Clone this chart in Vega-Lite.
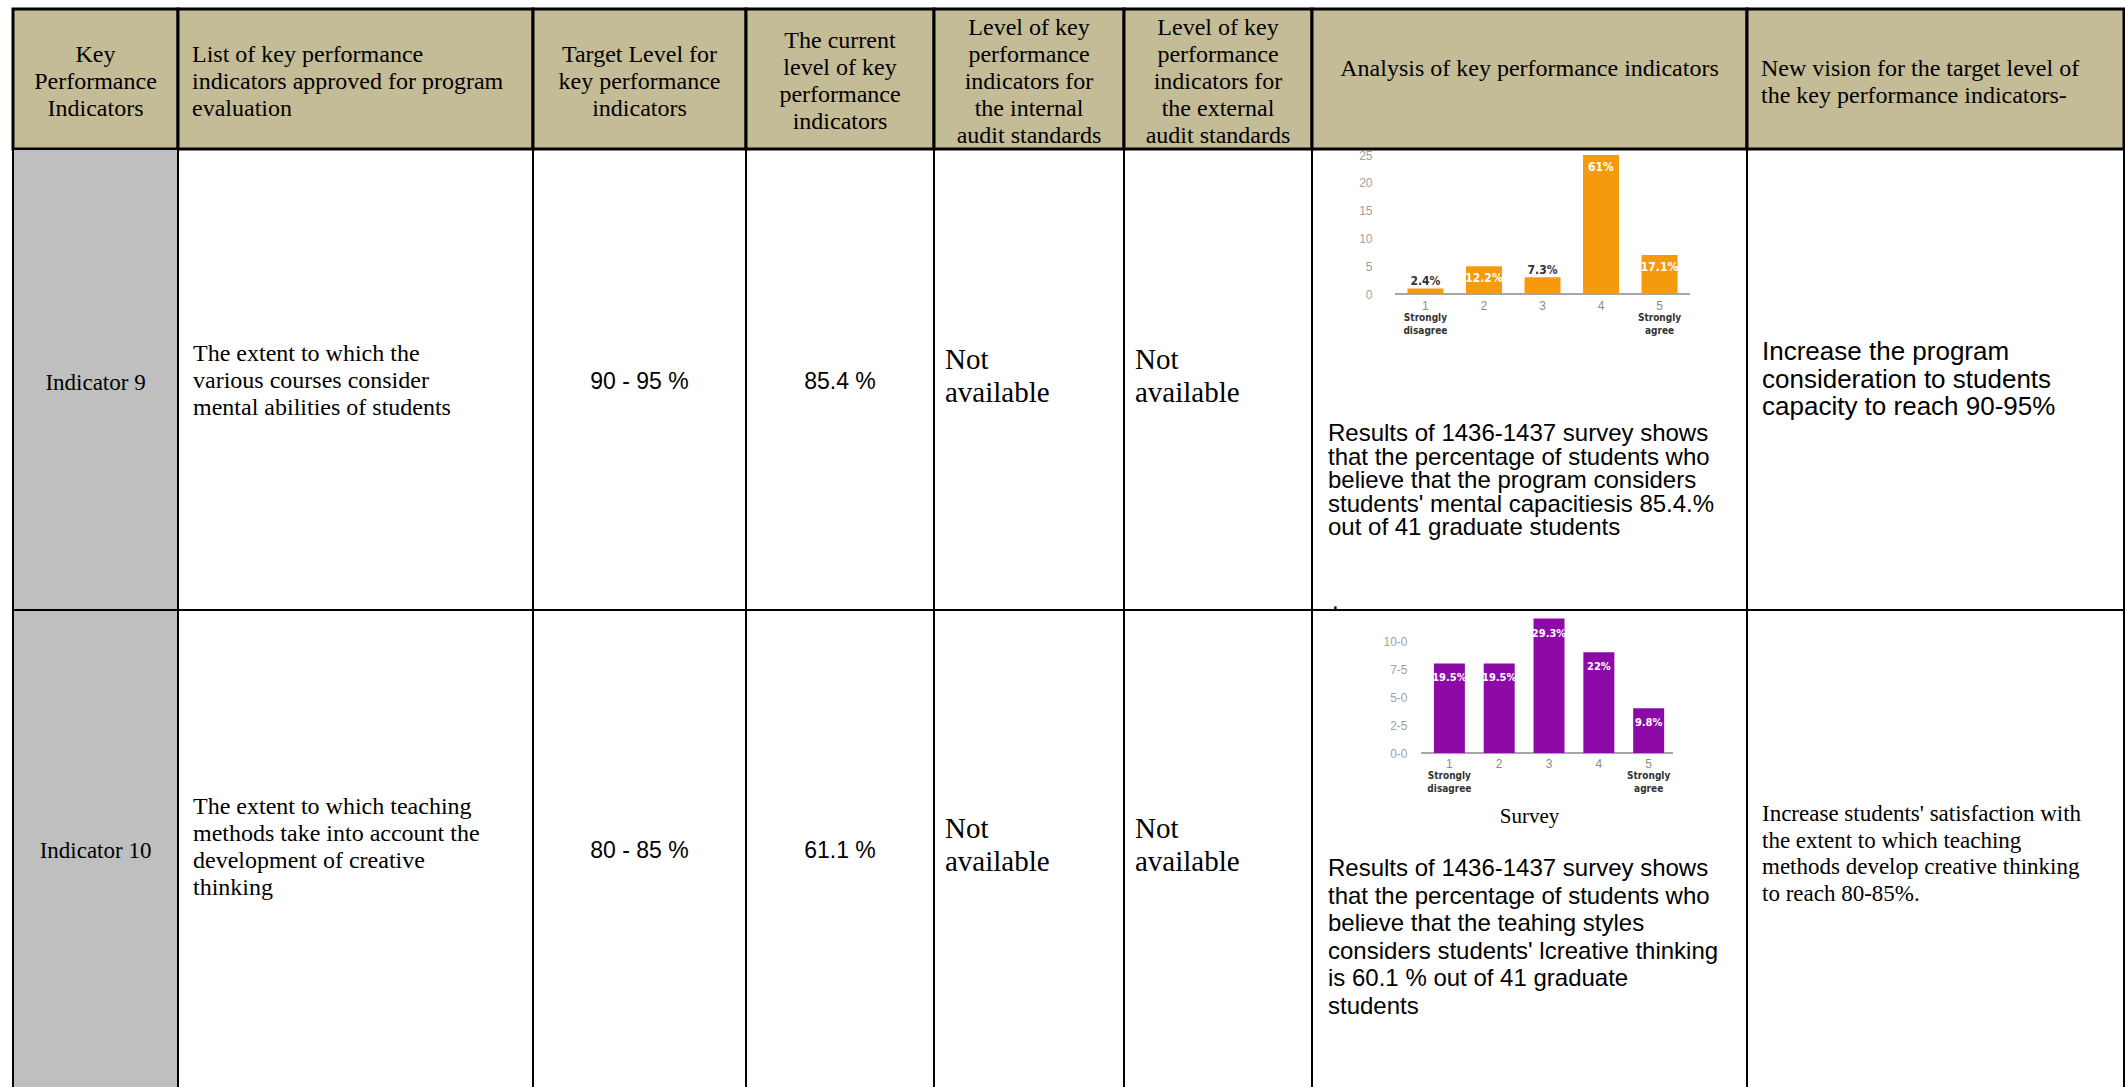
{
  "$schema": "https://vega.github.io/schema/vega-lite/v6.json",
  "description": "Key performance indicators table with two survey bar charts",
  "padding": {"left": 11, "top": 7, "right": 0, "bottom": 0},
  "columns": 8,
  "spacing": 0,
  "bounds": "flush",
  "concat": [
    {
      "width": 165, "height": 140,
      "view": {"fill": "#c4bc96", "stroke": "#000000", "strokeWidth": 3},
      "data": {"values": [{"label": ["Key", "Performance", "Indicators"]}]},
      "mark": {"type": "text", "dy": -24},
      "encoding": {"text": {"field": "label"}}
    },
    {
      "width": 355, "height": 140,
      "view": {"fill": "#c4bc96", "stroke": "#000000", "strokeWidth": 3},
      "data": {"values": [{"label": ["List of key performance", "indicators approved for program", "evaluation"]}]},
      "mark": {"type": "text", "align": "left", "dx": -163.5, "dy": -24},
      "encoding": {"text": {"field": "label"}}
    },
    {
      "width": 213, "height": 140,
      "view": {"fill": "#c4bc96", "stroke": "#000000", "strokeWidth": 3},
      "data": {"values": [{"label": ["Target Level for", "key performance", "indicators"]}]},
      "mark": {"type": "text", "dy": -24},
      "encoding": {"text": {"field": "label"}}
    },
    {
      "width": 188, "height": 140,
      "view": {"fill": "#c4bc96", "stroke": "#000000", "strokeWidth": 3},
      "data": {"values": [{"label": ["The current", "level of key", "performance", "indicators"]}]},
      "mark": {"type": "text", "dy": -38},
      "encoding": {"text": {"field": "label"}}
    },
    {
      "width": 190, "height": 140,
      "view": {"fill": "#c4bc96", "stroke": "#000000", "strokeWidth": 3},
      "data": {"values": [{"label": ["Level of key", "performance", "indicators for", "the internal", "audit standards"]}]},
      "mark": {"type": "text", "dy": -51},
      "encoding": {"text": {"field": "label"}}
    },
    {
      "width": 188, "height": 140,
      "view": {"fill": "#c4bc96", "stroke": "#000000", "strokeWidth": 3},
      "data": {"values": [{"label": ["Level of key", "performance", "indicators for", "the external", "audit standards"]}]},
      "mark": {"type": "text", "dy": -51},
      "encoding": {"text": {"field": "label"}}
    },
    {
      "width": 435, "height": 140,
      "view": {"fill": "#c4bc96", "stroke": "#000000", "strokeWidth": 3},
      "data": {"values": [{"label": ["Analysis of key performance indicators"]}]},
      "mark": {"type": "text", "dy": -10},
      "encoding": {"text": {"field": "label"}}
    },
    {
      "width": 377, "height": 140,
      "view": {"fill": "#c4bc96", "stroke": "#000000", "strokeWidth": 3},
      "data": {"values": [{"label": ["New vision for the target level of", "the key performance indicators-"]}]},
      "mark": {"type": "text", "align": "left", "dx": -174.5, "dy": -10},
      "encoding": {"text": {"field": "label"}}
    },
    {
      "width": 165, "height": 461,
      "view": {"fill": "#bfbfbf", "stroke": "#000000", "strokeWidth": 2},
      "data": {"values": [{"label": ["Indicator 9"]}]},
      "mark": {"type": "text", "fontSize": 23, "dy": 3},
      "encoding": {"text": {"field": "label"}}
    },
    {
      "width": 355, "height": 461,
      "view": {"stroke": "#000000", "strokeWidth": 2},
      "data": {"values": [{"label": ["The extent to which the", "various courses consider", "mental abilities of students"]}]},
      "mark": {"type": "text", "align": "left", "dx": -162.5, "dy": -26},
      "encoding": {"text": {"field": "label"}}
    },
    {
      "width": 213, "height": 461,
      "view": {"stroke": "#000000", "strokeWidth": 2},
      "data": {"values": [{"label": ["90 - 95 %"]}]},
      "mark": {"type": "text", "font": "Liberation Sans", "fontSize": 23, "dy": 2},
      "encoding": {"text": {"field": "label"}}
    },
    {
      "width": 188, "height": 461,
      "view": {"stroke": "#000000", "strokeWidth": 2},
      "data": {"values": [{"label": ["85.4 %"]}]},
      "mark": {"type": "text", "font": "Liberation Sans", "fontSize": 23, "dy": 2},
      "encoding": {"text": {"field": "label"}}
    },
    {
      "width": 190, "height": 461,
      "view": {"stroke": "#000000", "strokeWidth": 2},
      "data": {"values": [{"label": ["Not", "available"]}]},
      "mark": {"type": "text", "fontSize": 29, "lineHeight": 33, "align": "left", "dx": -84, "dy": -20},
      "encoding": {"text": {"field": "label"}}
    },
    {
      "width": 188, "height": 461,
      "view": {"stroke": "#000000", "strokeWidth": 2},
      "data": {"values": [{"label": ["Not", "available"]}]},
      "mark": {"type": "text", "fontSize": 29, "lineHeight": 33, "align": "left", "dx": -83, "dy": -20},
      "encoding": {"text": {"field": "label"}}
    },
    {
      "width": 435, "height": 461,
      "view": {"stroke": "#000000", "strokeWidth": 2},
      "layer": [
        {
          "data": {"values": [
            {"score": 1, "students": 1, "share": "2.4%", "anchor": ["Strongly", "disagree"]},
            {"score": 2, "students": 5, "share": "12.2%"},
            {"score": 3, "students": 3, "share": "7.3%"},
            {"score": 4, "students": 25, "share": "61%"},
            {"score": 5, "students": 7, "share": "17.1%", "anchor": ["Strongly", "agree"]}
          ]},
          "encoding": {
            "x": {"field": "score", "type": "quantitative", "axis": null, "scale": {"domain": [-0.853, 6.409], "nice": false, "zero": false}},
            "y": {
              "field": "students", "type": "quantitative",
              "scale": {"domain": [-56.83, 26.08], "nice": false},
              "axis": {"title": null, "values": [0, 5, 10, 15, 20, 25], "domain": false, "ticks": false, "grid": false, "labelOverlap": false, "offset": -60, "labelPadding": 0, "labelColor": "#a0a0a0", "labelFont": "Liberation Sans", "labelFontSize": 12}
            }
          },
          "layer": [
            {"mark": {"type": "rule", "color": "#a6a6a6", "strokeWidth": 1.5}, "encoding": {"x": {"datum": 0.48}, "x2": {"datum": 5.52}, "y": {"datum": 0}}},
            {"mark": {"type": "bar", "orient": "vertical", "size": 36, "color": "#f59a0c"}},
            {
              "transform": [{"filter": "datum.students > 3"}],
              "mark": {"type": "text", "baseline": "top", "dy": 7, "color": "white", "font": "DejaVu Sans Condensed, Liberation Sans, sans-serif", "fontWeight": "bold", "fontSize": 12, "lineHeight": 13},
              "encoding": {"text": {"field": "share"}}
            },
            {
              "transform": [{"filter": "datum.students <= 3"}],
              "mark": {"type": "text", "baseline": "bottom", "dy": 0, "color": "#333333", "font": "DejaVu Sans Condensed, Liberation Sans, sans-serif", "fontWeight": "bold", "fontSize": 12, "lineHeight": 13},
              "encoding": {"text": {"field": "share"}}
            },
            {
              "mark": {"type": "text", "baseline": "top", "dy": 7, "color": "#8c8c8c", "font": "Liberation Sans", "fontSize": 12, "lineHeight": 13},
              "encoding": {"y": {"datum": 0}, "text": {"field": "score"}}
            },
            {
              "transform": [{"filter": "isValid(datum.anchor)"}],
              "mark": {"type": "text", "baseline": "top", "dy": 19, "color": "#333333", "font": "DejaVu Sans Condensed, Liberation Sans, sans-serif", "fontWeight": "bold", "fontSize": 10, "lineHeight": 13},
              "encoding": {"y": {"datum": 0}, "text": {"field": "anchor"}}
            }
          ]
        },
        {
          "data": {"values": [
            {"label": ["Results of 1436-1437 survey   shows", "that the percentage of students who", "believe that the program   considers", "students' mental capacitiesis 85.4.%", "out of 41 graduate   students"], "part": "body"},
            {"label": ["."], "part": "dot"}
          ]},
          "layer": [
            {
              "transform": [{"filter": "datum.part == 'body'"}],
              "mark": {"type": "text", "font": "Liberation Sans", "fontSize": 24, "lineHeight": 23.5, "align": "left", "dx": -201.5, "dy": 54.5},
              "encoding": {"text": {"field": "label"}}
            },
            {
              "transform": [{"filter": "datum.part == 'dot'"}],
              "mark": {"type": "text", "font": "Liberation Sans", "fontSize": 24, "align": "left", "dx": -197.5, "dy": 222},
              "encoding": {"text": {"field": "label"}}
            }
          ]
        }
      ]
    },
    {
      "width": 377, "height": 461,
      "view": {"stroke": "#000000", "strokeWidth": 2},
      "data": {"values": [{"label": ["Increase        the        program", "consideration   to   students", "capacity to reach 90-95%"]}]},
      "mark": {"type": "text", "font": "Liberation Sans", "fontSize": 26, "lineHeight": 27.5, "align": "left", "dx": -173.5, "dy": -27.5},
      "encoding": {"text": {"field": "label"}}
    },
    {
      "width": 165, "height": 478,
      "view": {"fill": "#bfbfbf", "stroke": "#000000", "strokeWidth": 2, "strokeDash": [643, 165, 600, 0]},
      "data": {"values": [{"label": ["Indicator 10"]}]},
      "mark": {"type": "text", "fontSize": 23, "dy": 2},
      "encoding": {"text": {"field": "label"}}
    },
    {
      "width": 355, "height": 478,
      "view": {"stroke": "#000000", "strokeWidth": 2, "strokeDash": [833, 355, 600, 0]},
      "data": {"values": [{"label": ["The extent to which teaching", "methods take into account the", "development of creative", "thinking"]}]},
      "mark": {"type": "text", "align": "left", "dx": -162.5, "dy": -42},
      "encoding": {"text": {"field": "label"}}
    },
    {
      "width": 213, "height": 478,
      "view": {"stroke": "#000000", "strokeWidth": 2, "strokeDash": [691, 213, 600, 0]},
      "data": {"values": [{"label": ["80 - 85 %"]}]},
      "mark": {"type": "text", "font": "Liberation Sans", "fontSize": 23, "dy": 2},
      "encoding": {"text": {"field": "label"}}
    },
    {
      "width": 188, "height": 478,
      "view": {"stroke": "#000000", "strokeWidth": 2, "strokeDash": [666, 188, 600, 0]},
      "data": {"values": [{"label": ["61.1 %"]}]},
      "mark": {"type": "text", "font": "Liberation Sans", "fontSize": 23, "dy": 2},
      "encoding": {"text": {"field": "label"}}
    },
    {
      "width": 190, "height": 478,
      "view": {"stroke": "#000000", "strokeWidth": 2, "strokeDash": [668, 190, 600, 0]},
      "data": {"values": [{"label": ["Not", "available"]}]},
      "mark": {"type": "text", "fontSize": 29, "lineHeight": 33, "align": "left", "dx": -84, "dy": -20},
      "encoding": {"text": {"field": "label"}}
    },
    {
      "width": 188, "height": 478,
      "view": {"stroke": "#000000", "strokeWidth": 2, "strokeDash": [666, 188, 600, 0]},
      "data": {"values": [{"label": ["Not", "available"]}]},
      "mark": {"type": "text", "fontSize": 29, "lineHeight": 33, "align": "left", "dx": -83, "dy": -20},
      "encoding": {"text": {"field": "label"}}
    },
    {
      "width": 435, "height": 478,
      "view": {"stroke": "#000000", "strokeWidth": 2, "strokeDash": [913, 435, 600, 0]},
      "layer": [
        {
          "data": {"values": [
            {"score": 1, "students": 8, "share": "19.5%", "anchor": ["Strongly", "disagree"]},
            {"score": 2, "students": 8, "share": "19.5%"},
            {"score": 3, "students": 12, "share": "29.3%"},
            {"score": 4, "students": 9, "share": "22%"},
            {"score": 5, "students": 4, "share": "9.8%", "anchor": ["Strongly", "agree"]}
          ]},
          "encoding": {
            "x": {"field": "score", "type": "quantitative", "axis": null, "scale": {"domain": [-1.657, 6.873], "nice": false, "zero": false}},
            "y": {
              "field": "students", "type": "quantitative",
              "scale": {"domain": [-29.91, 12.77], "nice": false},
              "axis": {"title": null, "values": [0, 2.5, 5, 7.5, 10], "labelExpr": "replace(format(datum.value, '.1f'), '.', '-')", "domain": false, "ticks": false, "grid": false, "labelOverlap": false, "offset": -95, "labelPadding": 0, "labelColor": "#a0a0a0", "labelFont": "Liberation Sans", "labelFontSize": 12}
            }
          },
          "layer": [
            {"mark": {"type": "rule", "color": "#a6a6a6", "strokeWidth": 1.5}, "encoding": {"x": {"datum": 0.44}, "x2": {"datum": 5.48}, "y": {"datum": 0}}},
            {"mark": {"type": "bar", "orient": "vertical", "size": 31, "color": "#8e0aa8"}},
            {
              "mark": {"type": "text", "baseline": "top", "dy": 9, "color": "white", "font": "DejaVu Sans Condensed, Liberation Sans, sans-serif", "fontWeight": "bold", "fontSize": 11, "lineHeight": 13},
              "encoding": {"text": {"field": "share"}}
            },
            {
              "mark": {"type": "text", "baseline": "top", "dy": 6, "color": "#8c8c8c", "font": "Liberation Sans", "fontSize": 12, "lineHeight": 13},
              "encoding": {"y": {"datum": 0}, "text": {"field": "score"}}
            },
            {
              "transform": [{"filter": "isValid(datum.anchor)"}],
              "mark": {"type": "text", "baseline": "top", "dy": 18, "color": "#333333", "font": "DejaVu Sans Condensed, Liberation Sans, sans-serif", "fontWeight": "bold", "fontSize": 10, "lineHeight": 13},
              "encoding": {"y": {"datum": 0}, "text": {"field": "anchor"}}
            }
          ]
        },
        {
          "data": {"values": [
            {"label": ["Survey"], "part": "caption"},
            {"label": ["Results of 1436-1437 survey  shows", "that the percentage of students who", "believe that the teahing styles", "considers students'  lcreative thinking", "is 60.1 % out of 41 graduate", "students"], "part": "body"}
          ]},
          "layer": [
            {
              "transform": [{"filter": "datum.part == 'caption'"}],
              "mark": {"type": "text", "font": "Liberation Serif", "fontSize": 21, "dy": -32},
              "encoding": {"text": {"field": "label"}}
            },
            {
              "transform": [{"filter": "datum.part == 'body'"}],
              "mark": {"type": "text", "font": "Liberation Sans", "fontSize": 24, "lineHeight": 27.6, "align": "left", "dx": -201.5, "dy": 20},
              "encoding": {"text": {"field": "label"}}
            }
          ]
        }
      ]
    },
    {
      "width": 377, "height": 478,
      "view": {"stroke": "#000000", "strokeWidth": 2, "strokeDash": [855, 377, 600, 0]},
      "data": {"values": [{"label": ["Increase students' satisfaction with", "the extent to which teaching", "methods develop creative thinking", "to reach 80-85%."]}]},
      "mark": {"type": "text", "fontSize": 23, "lineHeight": 26.7, "align": "left", "dx": -173.5, "dy": -35},
      "encoding": {"text": {"field": "label"}}
    }
  ],
  "config": {
    "view": {"stroke": "#000000", "strokeWidth": 2},
    "concat": {"spacing": 0},
    "text": {"font": "Liberation Serif", "fontSize": 24, "lineHeight": 27, "baseline": "middle", "color": "#000000"}
  }
}
